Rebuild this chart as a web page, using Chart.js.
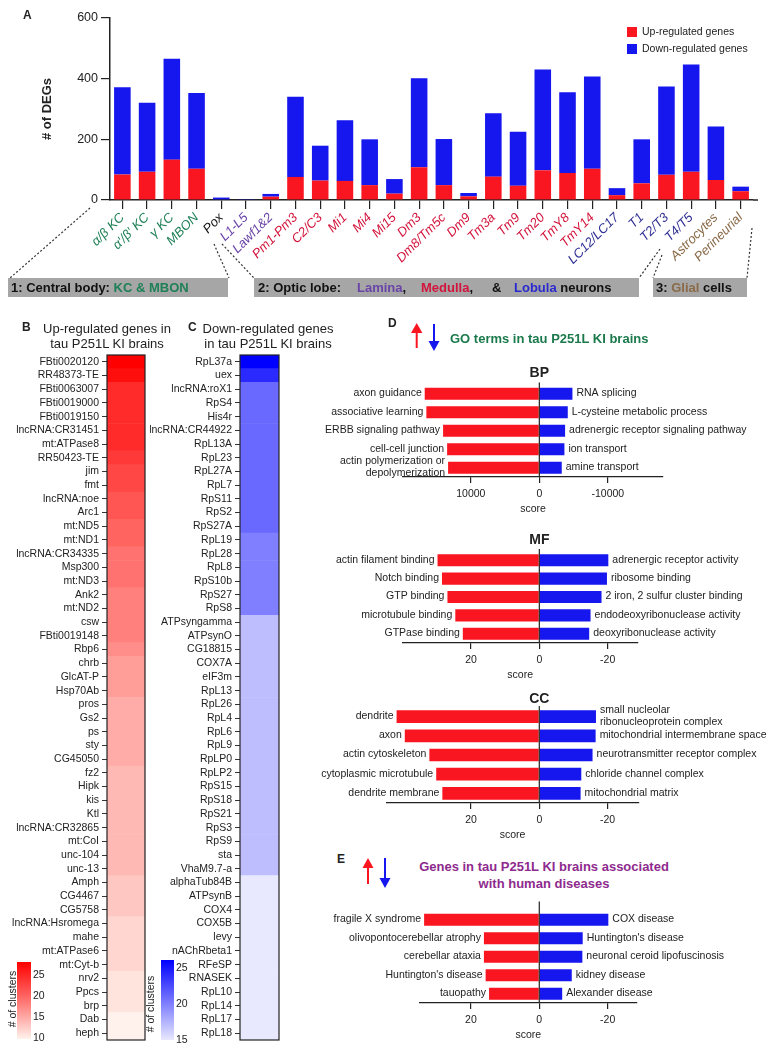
<!DOCTYPE html>
<html>
<head>
<meta charset="utf-8">
<script src="https://cdn.jsdelivr.net/npm/chart.js@4.4.1/dist/chart.umd.min.js"></script>
<style>
  body { margin: 0; background: #fff; font-family: "Liberation Sans", Arial, sans-serif; color: #222; }
  #page { position: relative; width: 774px; height: 1050px; overflow: hidden; }
  canvas, .abs { position: absolute; }
  .abs { white-space: nowrap; }
  .letter { font-weight: bold; font-size: 12px; }
  .ttl { font-size: 13px; line-height: 15px; text-align: center; }
  .small { font-size: 10.5px; }
  .rot { width: 80px; text-align: center; font-size: 10.5px; transform: rotate(-90deg); }
</style>
</head>
<body>
<div id="page">
  <canvas id="chartA" width="774" height="300" style="left:0;top:0"></canvas>

  <div class="abs letter" style="left:23px;top:8px">A</div>
  <div class="abs" style="left:627px;top:27px;width:10px;height:10px;background:rgb(250,22,32)"></div>
  <div class="abs small" style="left:642px;top:25px">Up-regulated genes</div>
  <div class="abs" style="left:627px;top:44px;width:10px;height:10px;background:rgb(22,22,238)"></div>
  <div class="abs small" style="left:642px;top:42px">Down-regulated genes</div>

  <div class="abs letter" style="left:22px;top:320px">B</div>
  <div class="abs ttl" style="left:7px;top:321px;width:200px">Up-regulated genes in<br>tau P251L KI brains</div>
  <div class="abs letter" style="left:188px;top:320px">C</div>
  <div class="abs ttl" style="left:168px;top:321px;width:200px">Down-regulated genes<br>in tau P251L KI brains</div>

  <canvas id="chartB" width="150" height="705" style="left:0;top:345px"></canvas>
  <canvas id="chartC" width="135" height="705" style="left:150px;top:345px"></canvas>

  <div id="barB" class="abs" style="left:17px;top:962px;width:14px;height:77px"></div>
  <div class="abs small" style="left:33px;top:968px">25</div>
  <div class="abs small" style="left:33px;top:989px">20</div>
  <div class="abs small" style="left:33px;top:1010px">15</div>
  <div class="abs small" style="left:33px;top:1031px">10</div>
  <div class="abs rot" style="left:-28px;top:993px"># of clusters</div>

  <div id="barC" class="abs" style="left:161px;top:960px;width:13px;height:80px"></div>
  <div class="abs small" style="left:176px;top:961px">25</div>
  <div class="abs small" style="left:176px;top:997px">20</div>
  <div class="abs small" style="left:176px;top:1033px">15</div>
  <div class="abs rot" style="left:110px;top:998px"># of clusters</div>

  <div class="abs letter" style="left:388px;top:316px">D</div>
  <div class="abs" style="left:450px;top:331px;font-size:13px;font-weight:bold;color:#1b7a4b">GO terms in tau P251L KI brains</div>

  <canvas id="chartBP" width="484" height="155" style="left:290px;top:360px"></canvas>
  <canvas id="chartMF" width="484" height="153" style="left:290px;top:528px"></canvas>
  <canvas id="chartCC" width="484" height="158" style="left:290px;top:683px"></canvas>

  <div class="abs letter" style="left:337px;top:852px">E</div>
  <div class="abs" style="left:344px;top:858px;width:400px;text-align:center;font-size:13px;line-height:17px;font-weight:bold;color:#8e2a8e">Genes in tau P251L KI brains associated<br>with human diseases</div>
  <canvas id="chartE" width="484" height="146" style="left:290px;top:895px"></canvas>

  <svg class="abs" style="left:0;top:0" width="774" height="1050">
    <g stroke-width="2">
      <line x1="416.7" y1="348" x2="416.7" y2="331" stroke="rgb(250,22,32)"/>
      <polygon points="411,333 422.4,333 416.7,323" fill="rgb(250,22,32)"/>
      <line x1="434" y1="324" x2="434" y2="342" stroke="rgb(22,22,238)"/>
      <polygon points="428.5,341 439.5,341 434,351" fill="rgb(22,22,238)"/>
      <line x1="368" y1="884" x2="368" y2="866" stroke="rgb(250,22,32)"/>
      <polygon points="362.5,868 373.5,868 368,858" fill="rgb(250,22,32)"/>
      <line x1="385" y1="858" x2="385" y2="879" stroke="rgb(22,22,238)"/>
      <polygon points="379.5,878 390.5,878 385,888" fill="rgb(22,22,238)"/>
    </g>
  </svg>
</div>

<script>
// ---- panel A: DEGs per cell type ----
const cellTypes = ['α/β KC', 'α′/β′ KC', 'γ KC', 'MBON', 'Pox', 'L1-L5', 'Lawf1&2', 'Pm1-Pm3', 'C2/C3', 'Mi1',
  'Mi4', 'Mi15', 'Dm3', 'Dm8/Tm5c', 'Dm9', 'Tm3a', 'Tm9', 'Tm20', 'TmY8', 'TmY14', 'LC12/LC17', 'T1', 'T2/T3',
  'T4/T5', 'Astrocytes', 'Perineurial'];
const upDEGs = [84, 93, 133, 103, 2, 0, 11, 76, 64, 63, 49, 21, 108, 49, 12, 77, 47, 98, 89, 103, 16, 55, 83, 93, 66, 29];
const downDEGs = [288, 228, 333, 250, 6, 1, 9, 264, 115, 200, 151, 48, 293, 152, 11, 209, 178, 332, 266, 304, 23, 145, 291, 354, 176, 15];
const cellGroups = ['kc', 'kc', 'kc', 'kc', 'other', 'lamina', 'lamina', 'medulla', 'medulla', 'medulla',
  'medulla', 'medulla', 'medulla', 'medulla', 'medulla', 'medulla', 'medulla', 'medulla', 'medulla', 'medulla',
  'lobula', 'lobula', 'lobula', 'lobula', 'glia', 'glia'];

// ---- panels B / C: top genes and number of clusters ----
const upGenes = ['FBti0020120', 'RR48373-TE', 'FBti0063007', 'FBti0019000', 'FBti0019150', 'lncRNA:CR31451',
  'mt:ATPase8', 'RR50423-TE', 'jim', 'fmt', 'lncRNA:noe', 'Arc1', 'mt:ND5', 'mt:ND1', 'lncRNA:CR34335', 'Msp300',
  'mt:ND3', 'Ank2', 'mt:ND2', 'csw', 'FBti0019148', 'Rbp6', 'chrb', 'GlcAT-P', 'Hsp70Ab', 'pros', 'Gs2', 'ps', 'sty',
  'CG45050', 'fz2', 'Hipk', 'kis', 'Ktl', 'lncRNA:CR32865', 'mt:CoI', 'unc-104', 'unc-13', 'Amph', 'CG4467',
  'CG5758', 'lncRNA:Hsromega', 'mahe', 'mt:ATPase6', 'mt:Cyt-b', 'nrv2', 'Ppcs', 'brp', 'Dab', 'heph'];
const upClusters = [27, 26, 24, 24, 24, 24, 24, 23, 22, 22, 21, 21, 20, 20, 19, 19, 19, 18, 18, 18, 18, 17, 16, 16, 16,
  15, 15, 15, 15, 15, 14, 14, 14, 14, 14, 14, 14, 14, 13, 13, 13, 12, 12, 12, 12, 11, 11, 11, 10, 10];
const downGenes = ['RpL37a', 'uex', 'lncRNA:roX1', 'RpS4', 'His4r', 'lncRNA:CR44922', 'RpL13A', 'RpL23', 'RpL27A',
  'RpL7', 'RpS11', 'RpS2', 'RpS27A', 'RpL19', 'RpL28', 'RpL8', 'RpS10b', 'RpS27', 'RpS8', 'ATPsyngamma', 'ATPsynO',
  'CG18815', 'COX7A', 'eIF3m', 'RpL13', 'RpL26', 'RpL4', 'RpL6', 'RpL9', 'RpLP0', 'RpLP2', 'RpS15', 'RpS18', 'RpS21',
  'RpS3', 'RpS9', 'sta', 'VhaM9.7-a', 'alphaTub84B', 'ATPsynB', 'COX4', 'COX5B', 'levy', 'nAChRbeta1', 'RFeSP',
  'RNASEK', 'RpL10', 'RpL14', 'RpL17', 'RpL18'];
const downClusters = [26, 24, 21, 21, 21, 21, 21, 21, 21, 21, 21, 21, 21, 20, 20, 20, 20, 20, 20, 17, 17, 17, 17, 17,
  17, 17, 17, 17, 17, 17, 17, 17, 17, 17, 17, 17, 17, 17, 15, 15, 15, 15, 15, 15, 15, 15, 15, 15, 15, 15];

// ---- panel D: GO terms (score) ----
const bpUpTerms = ['axon guidance', 'associative learning', 'ERBB signaling pathway', 'cell-cell junction',
  ['actin polymerization or', 'depolymerization']];
const bpUpScores = [16730, 16490, 14050, 13460, 13320];
const bpDownTerms = ['RNA splicing', 'L-cysteine metabolic process', 'adrenergic receptor signaling pathway',
  'ion transport', 'amine transport'];
const bpDownScores = [-4830, -4150, -3760, -3660, -3270];

const mfUpTerms = ['actin filament binding', 'Notch binding', 'GTP binding', 'microtubule binding', 'GTPase binding'];
const mfUpScores = [29.8, 28.5, 26.9, 24.6, 22.4];
const mfDownTerms = ['adrenergic receptor activity', 'ribosome binding', '2 iron, 2 sulfur cluster binding',
  'endodeoxyribonuclease activity', 'deoxyribonuclease activity'];
const mfDownScores = [-20.2, -19.8, -18.2, -15.0, -14.6];

const ccUpTerms = ['dendrite', 'axon', 'actin cytoskeleton', 'cytoplasmic microtubule', 'dendrite membrane'];
const ccUpScores = [41.8, 39.4, 32.2, 30.2, 28.4];
const ccDownTerms = [['small nucleolar', 'ribonucleoprotein complex'], 'mitochondrial intermembrane space',
  'neurotransmitter receptor complex', 'chloride channel complex', 'mitochondrial matrix'];
const ccDownScores = [-16.6, -16.5, -15.6, -12.3, -12.1];

// ---- panel E: disease association (score) ----
const diseaseUpTerms = ['fragile X syndrome', 'olivopontocerebellar atrophy', 'cerebellar ataxia',
  "Huntington's disease", 'tauopathy'];
const diseaseUpScores = [33.7, 16.2, 16.2, 15.7, 14.7];
const diseaseDownTerms = ['COX disease', "Huntington's disease", 'neuronal ceroid lipofuscinosis', 'kidney disease',
  'Alexander disease'];
const diseaseDownScores = [-20.2, -12.7, -12.6, -9.5, -6.7];


const FONT = '"Liberation Sans", Arial, sans-serif';
const RED = 'rgb(250,22,32)';
const BLUE = 'rgb(22,22,238)';
const groupColors = { kc: '#1f8057', other: '#111', lamina: '#6a44a8', medulla: '#d3143c', lobula: '#2f2f95', glia: '#8a6a48' };

Chart.defaults.font.family = FONT;
Chart.defaults.color = '#222';
Chart.defaults.animation = false;


function redShade(v) {
    const t = Math.max(0, Math.min(1, (v - 10) / 17));
    return `rgb(255,${Math.round(242 * (1 - t))},${Math.round(236 * (1 - t))})`;
}

function blueShade(v) {
    const t = Math.max(0, Math.min(1, (v - 15) / 11));
    return `rgb(${Math.round(232 * (1 - t))},${Math.round(232 * (1 - t))},255)`;
}


// dashed guides + grey group boxes under panel A
const groupsPlugin = {
    id: 'groups',
    afterDraw(chart) {
        const ctx = chart.ctx;
        const base = chart.scales.y.getPixelForValue(0);
        ctx.save();
        ctx.strokeStyle = '#222';
        ctx.lineWidth = 1.5;
        ctx.beginPath();
        ctx.moveTo(chart.chartArea.right, base);
        ctx.lineTo(chart.chartArea.right + 5, base);
        ctx.stroke();

        ctx.setLineDash([2, 2]);
        ctx.lineWidth = 1.2;
        ctx.strokeStyle = '#333';
        [[90, 208, 10, 278], [214, 244, 229, 278], [222, 244, 254, 278],
         [660, 249, 639, 278], [662, 255, 653, 278], [752, 228, 747, 278]].forEach(l => {
            ctx.beginPath();
            ctx.moveTo(l[0], l[1]);
            ctx.lineTo(l[2], l[3]);
            ctx.stroke();
        });
        ctx.setLineDash([]);

        ctx.fillStyle = 'rgb(166,166,166)';
        [[8, 228], [254, 639], [653, 747]].forEach(b => ctx.fillRect(b[0], 278, b[1] - b[0], 19));

        ctx.font = `bold 13px ${FONT}`;
        ctx.textBaseline = 'middle';
        const write = (x, parts) => {
            parts.forEach(p => {
                ctx.fillStyle = p[1];
                ctx.fillText(p[0], x, 288);
                x += ctx.measureText(p[0]).width;
            });
        };
        write(11, [['1: Central body: ', '#111'], ['KC & MBON', groupColors.kc]]);
        write(258, [['2: Optic lobe:', '#111']]);
        write(357, [['Lamina', groupColors.lamina], [',', '#111']]);
        write(421, [['Medulla', groupColors.medulla], [',', '#111']]);
        write(492, [['&', '#111']]);
        write(514, [['Lobula', '#2a2ad0'], [' neurons', '#111']]);
        write(656, [['3: ', '#111'], ['Glial', groupColors.glia], [' cells', '#111']]);
        ctx.restore();
    }
};

new Chart(document.getElementById('chartA'), {
    type: 'bar',
    data: {
        labels: cellTypes,
        datasets: [
            { label: 'Up-regulated genes', data: upDEGs, backgroundColor: RED },
            { label: 'Down-regulated genes', data: downDEGs, backgroundColor: BLUE }
        ]
    },
    options: {
        responsive: false,
        layout: { padding: { left: 40, right: 21, top: 18, bottom: 0 } },
        datasets: { bar: { barPercentage: 0.67, categoryPercentage: 1 } },
        plugins: { legend: { display: false }, tooltip: { enabled: false } },
        scales: {
            x: {
                stacked: true,
                grid: { drawOnChartArea: false, offset: false, tickLength: 9, color: '#222', lineWidth: 1.2 },
                border: { color: '#222', width: 1.5 },
                ticks: {
                    autoSkip: false, minRotation: 45, maxRotation: 45, padding: 1,
                    font: { size: 13, style: 'italic' },
                    color: ctx => groupColors[cellGroups[ctx.index]]
                },
                afterFit: s => { s.height = 100; }
            },
            y: {
                stacked: true, min: 0, max: 600,
                ticks: { stepSize: 200, font: { size: 12.5 }, padding: 3 },
                grid: { drawOnChartArea: false, tickLength: 9, color: '#222', lineWidth: 1.2 },
                border: { color: '#222', width: 1.5 },
                title: { display: true, text: '# of DEGs', font: { size: 13, weight: 'bold' }, padding: 0 },
                afterFit: s => { s.width = 70; }
            }
        }
    },
    plugins: [groupsPlugin]
});


const framePlugin = {
    id: 'frame',
    afterDatasetsDraw(chart) {
        const a = chart.chartArea;
        const ctx = chart.ctx;
        ctx.save();
        ctx.strokeStyle = '#222';
        ctx.lineWidth = 1.2;
        ctx.strokeRect(a.left, a.top, a.right - a.left, a.bottom - a.top);
        ctx.restore();
    }
};

function heatmap(id, genes, clusters, shade, yWidth, padRight) {
    return new Chart(document.getElementById(id), {
        type: 'bar',
        data: {
            labels: genes,
            datasets: [{
                data: genes.map(() => 1),
                backgroundColor: clusters.map(shade),
                barPercentage: 1, categoryPercentage: 1, borderWidth: 0
            }]
        },
        options: {
            indexAxis: 'y',
            responsive: false,
            layout: { padding: { left: 0, right: padRight, top: 10, bottom: 10 } },
            plugins: { legend: { display: false }, tooltip: { enabled: false } },
            scales: {
                x: { display: false, min: 0, max: 1 },
                y: {
                    grid: { drawOnChartArea: false, offset: false, tickLength: 5, color: '#333' },
                    border: { display: false },
                    ticks: { autoSkip: false, font: { size: 10.5 }, padding: 3, color: '#222' },
                    afterFit: s => { s.width = yWidth; }
                }
            }
        },
        plugins: [framePlugin]
    });
}

heatmap('chartB', upGenes, upClusters, redShade, 107, 5);
heatmap('chartC', downGenes, downClusters, blueShade, 90, 6);

document.getElementById('barB').style.background =
    `linear-gradient(to bottom, ${redShade(28)}, ${redShade(19)}, ${redShade(10)})`;
document.getElementById('barC').style.background =
    `linear-gradient(to bottom, ${blueShade(26)}, ${blueShade(20.5)}, ${blueShade(15)})`;


// term labels beside bars, zero line and panel title
function termPlugin(upTerms, downTerms, title, titleGap, lineExt) {
    return {
        id: 'terms',
        afterDatasetsDraw(chart) {
            const ctx = chart.ctx;
            const a = chart.chartArea;
            const x0 = chart.scales.x.getPixelForValue(0);
            ctx.save();
            ctx.strokeStyle = '#222';
            ctx.lineWidth = 1.2;
            ctx.beginPath();
            ctx.moveTo(x0, a.top - lineExt);
            ctx.lineTo(x0, a.bottom);
            ctx.stroke();

            ctx.font = `10.5px ${FONT}`;
            ctx.fillStyle = '#222';
            ctx.textBaseline = 'middle';
            [0, 1].forEach(di => {
                const terms = di === 0 ? upTerms : downTerms;
                ctx.textAlign = di === 0 ? 'right' : 'left';
                chart.getDatasetMeta(di).data.forEach((bar, i) => {
                    const lines = [].concat(terms[i]);
                    const x = di === 0 ? bar.x - 3 : bar.x + 4;
                    lines.forEach((ln, k) => ctx.fillText(ln, x, bar.y - 0.5 + (k - (lines.length - 1) / 2) * 12.5));
                });
            });

            if (title) {
                ctx.font = `bold 14px ${FONT}`;
                ctx.textAlign = 'center';
                ctx.fillText(title, x0, a.top - titleGap);
            }
            ctx.restore();
        }
    };
}

function divergingChart(id, upTerms, upScores, downTerms, downScores, o) {
    const canvas = document.getElementById(id);
    const top = parseFloat(canvas.style.top);
    return new Chart(canvas, {
        type: 'bar',
        data: {
            labels: upScores.map((_, i) => i),
            datasets: [
                { data: upScores, backgroundColor: RED },
                { data: downScores, backgroundColor: BLUE }
            ]
        },
        options: {
            indexAxis: 'y',
            responsive: false,
            layout: { padding: { left: o.left - 290, right: 774 - o.right, top: o.top - top, bottom: 0 } },
            datasets: { bar: { barPercentage: 0.66, categoryPercentage: 1, borderWidth: 0 } },
            plugins: { legend: { display: false }, tooltip: { enabled: false } },
            scales: {
                y: { display: false, stacked: true },
                x: {
                    stacked: true, reverse: true, min: o.min, max: o.max,
                    afterBuildTicks: s => { s.ticks = o.ticks.map(v => ({ value: v })); },
                    ticks: { callback: v => String(v), font: { size: 10.5 }, padding: 5, color: '#222' },
                    grid: { drawOnChartArea: false, tickLength: 6, color: '#222', lineWidth: 1.2 },
                    border: { color: '#222', width: 1.2 },
                    title: { display: true, text: 'score', font: { size: 10.5 }, padding: 0, color: '#222' },
                    afterFit: s => { s.height = 38; }
                }
            }
        },
        plugins: [termPlugin(upTerms, downTerms, o.title, o.titleGap, o.lineExt)]
    });
}

divergingChart('chartBP', bpUpTerms, bpUpScores, bpDownTerms, bpDownScores,
    { left: 403, right: 663, top: 384.5, min: -18050, max: 19900, ticks: [10000, 0, -10000], title: 'BP', titleGap: 11.5, lineExt: 2 });
divergingChart('chartMF', mfUpTerms, mfUpScores, mfDownTerms, mfDownScores,
    { left: 402.7, right: 637.7, top: 551, min: -28.8, max: 40, ticks: [20, 0, -20], title: 'MF', titleGap: 11, lineExt: 2 });
divergingChart('chartCC', ccUpTerms, ccUpScores, ccDownTerms, ccDownScores,
    { left: 386.7, right: 638.3, top: 707, min: -29, max: 44.7, ticks: [20, 0, -20], title: 'CC', titleGap: 7.5, lineExt: 1 });
divergingChart('chartE', diseaseUpTerms, diseaseUpScores, diseaseDownTerms, diseaseDownScores,
    { left: 420, right: 636.7, top: 910.5, min: -28.5, max: 34.9, ticks: [20, 0, -20], title: null, titleGap: 0, lineExt: 9 });
</script>
</body>
</html>
